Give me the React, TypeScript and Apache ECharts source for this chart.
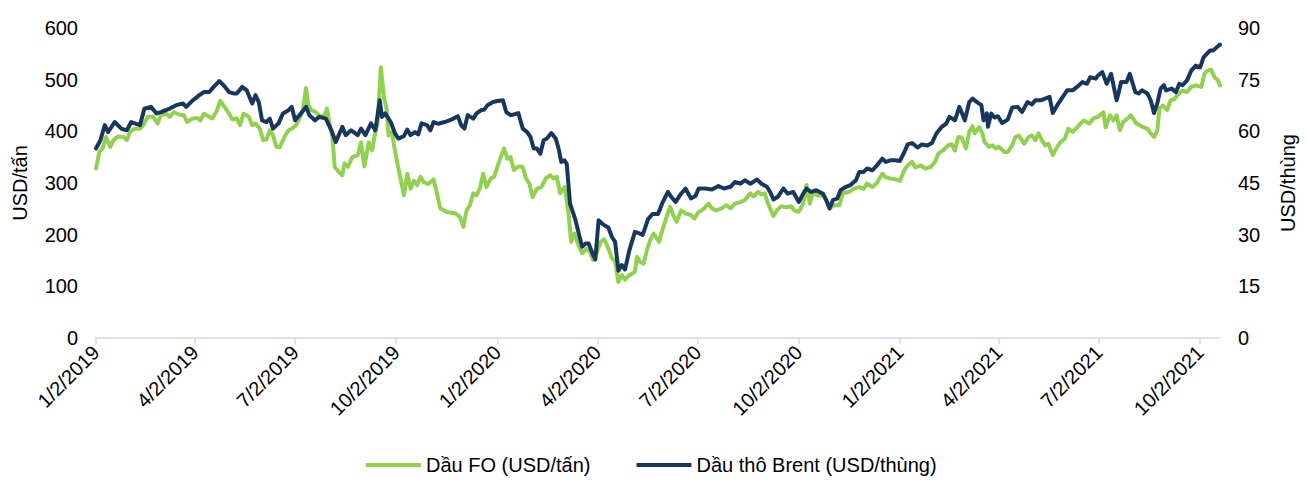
import React, { useEffect, useRef } from "react";
import * as echarts from "echarts";

// Axis domain (daily calendar) and tick labels
const START_DATE = "2019-01-02";
const END_DATE = "2021-10-20";
const TICK_MONTHS = ["01", "04", "07", "10"];
const TICK_DAY = "02";

const LEFT_TICKS = { min: 0, max: 600, interval: 100 };
const RIGHT_TICKS = { min: 0, max: 90, interval: 15 };

const FO_NAME = "Dầu FO (USD/tấn)";
const BRENT_NAME = "Dầu thô Brent (USD/thùng)";

const foDates: string[] = [
  "2019-01-02","2019-01-05","2019-01-08","2019-01-11","2019-01-15","2019-01-18","2019-01-22","2019-01-27","2019-01-30",
  "2019-02-02","2019-02-06","2019-02-11","2019-02-14","2019-02-18","2019-02-23","2019-02-27",
  "2019-03-02","2019-03-07","2019-03-10","2019-03-14","2019-03-19","2019-03-23","2019-03-26","2019-03-31",
  "2019-04-04","2019-04-07","2019-04-10","2019-04-15","2019-04-18","2019-04-22","2019-04-25","2019-04-28",
  "2019-05-03","2019-05-06","2019-05-10","2019-05-13","2019-05-16","2019-05-21","2019-05-24","2019-05-27","2019-05-31",
  "2019-06-03","2019-06-06","2019-06-09","2019-06-12","2019-06-15","2019-06-18","2019-06-23","2019-06-26","2019-06-29",
  "2019-07-03","2019-07-06","2019-07-09","2019-07-12","2019-07-14","2019-07-17","2019-07-21","2019-07-25","2019-07-29","2019-07-31",
  "2019-08-03","2019-08-05","2019-08-07","2019-08-11","2019-08-14","2019-08-16","2019-08-19","2019-08-23","2019-08-28","2019-08-31",
  "2019-09-03","2019-09-07","2019-09-10","2019-09-13","2019-09-15","2019-09-18","2019-09-21","2019-09-23","2019-09-25","2019-09-28",
  "2019-10-01","2019-10-05","2019-10-09","2019-10-12","2019-10-15","2019-10-18","2019-10-21","2019-10-24","2019-10-27","2019-10-31",
  "2019-11-05","2019-11-08","2019-11-11","2019-11-17","2019-11-25","2019-11-29",
  "2019-12-02","2019-12-05","2019-12-08","2019-12-11","2019-12-14","2019-12-17","2019-12-20","2019-12-23","2019-12-27","2019-12-30",
  "2020-01-03","2020-01-08","2020-01-11","2020-01-14","2020-01-17","2020-01-21","2020-01-25","2020-01-28","2020-01-31",
  "2020-02-03","2020-02-07","2020-02-11","2020-02-15","2020-02-19","2020-02-22","2020-02-25","2020-02-28",
  "2020-03-03","2020-03-05","2020-03-07","2020-03-09","2020-03-12","2020-03-15","2020-03-19","2020-03-23","2020-03-26","2020-03-29",
  "2020-04-01","2020-04-05","2020-04-08","2020-04-10","2020-04-12","2020-04-15","2020-04-18","2020-04-21","2020-04-24","2020-04-27","2020-04-30",
  "2020-05-03","2020-05-06","2020-05-08","2020-05-11","2020-05-14","2020-05-17","2020-05-20","2020-05-23","2020-05-26","2020-05-28","2020-05-30",
  "2020-06-02","2020-06-07","2020-06-10","2020-06-13","2020-06-17","2020-06-21","2020-06-26","2020-06-29",
  "2020-07-03","2020-07-07","2020-07-12","2020-07-15","2020-07-19","2020-07-24","2020-07-28",
  "2020-08-01","2020-08-05","2020-08-10","2020-08-14","2020-08-19","2020-08-22","2020-08-26","2020-08-29",
  "2020-09-01","2020-09-04","2020-09-09","2020-09-12","2020-09-16","2020-09-21","2020-09-25","2020-09-28",
  "2020-10-02","2020-10-06","2020-10-09","2020-10-12","2020-10-15","2020-10-19","2020-10-24","2020-10-27","2020-10-30",
  "2020-11-03","2020-11-08","2020-11-11","2020-11-17","2020-11-21","2020-11-26","2020-11-30",
  "2020-12-03","2020-12-08","2020-12-12","2020-12-17","2020-12-20","2020-12-24","2020-12-29",
  "2021-01-02","2021-01-06","2021-01-09","2021-01-13","2021-01-16","2021-01-21","2021-01-25","2021-01-30",
  "2021-02-03","2021-02-06","2021-02-10","2021-02-15","2021-02-18","2021-02-21","2021-02-24","2021-02-27",
  "2021-03-03","2021-03-06","2021-03-09","2021-03-11","2021-03-15","2021-03-18","2021-03-20","2021-03-24","2021-03-27","2021-03-30",
  "2021-04-02","2021-04-07","2021-04-10","2021-04-14","2021-04-17","2021-04-20","2021-04-25","2021-04-29",
  "2021-05-02","2021-05-05","2021-05-08","2021-05-11","2021-05-14","2021-05-17","2021-05-21","2021-05-25","2021-05-28",
  "2021-06-01","2021-06-04","2021-06-08","2021-06-11","2021-06-15","2021-06-18","2021-06-23","2021-06-27",
  "2021-07-01","2021-07-06","2021-07-08","2021-07-12","2021-07-15","2021-07-18","2021-07-21","2021-07-24","2021-07-28","2021-07-31",
  "2021-08-05","2021-08-08","2021-08-11","2021-08-15","2021-08-18","2021-08-21","2021-08-24","2021-08-26","2021-08-29",
  "2021-09-02","2021-09-05","2021-09-09","2021-09-11","2021-09-16","2021-09-20","2021-09-24","2021-09-28",
  "2021-10-03","2021-10-06","2021-10-09","2021-10-12","2021-10-15","2021-10-18","2021-10-20",
];

const foValues: number[] = [
  328,360,367,389,370,383,390,389,383,
  399,405,405,412,428,428,415,
  431,434,428,437,432,431,418,425,
  426,421,434,428,425,441,459,450,
  434,423,425,412,434,428,412,415,405,
  383,384,402,392,370,369,392,402,405,
  412,425,441,484,450,441,437,428,431,444,
  408,389,331,321,315,338,331,350,354,379,
  332,379,363,399,415,524,463,447,392,399,
  360,318,276,318,289,304,296,312,302,298,
  307,280,251,244,241,234,
  215,247,257,280,276,289,318,292,309,312,
  338,367,347,350,325,332,331,309,299,
  273,289,292,309,315,309,312,280,
  292,267,234,186,202,183,164,173,167,151,
  164,186,191,183,172,155,148,108,122,113,120,
  124,128,157,147,144,171,190,202,193,186,202,
  223,254,238,225,247,241,238,231,
  244,249,260,251,247,251,257,
  251,260,263,267,280,274,283,278,
  280,260,236,247,255,253,255,247,
  244,260,296,260,283,276,276,267,251,
  257,257,280,283,289,292,289,
  299,292,300,318,311,309,307,
  304,325,334,341,330,334,328,331,
  341,357,363,373,375,363,389,388,
  367,399,410,396,408,396,379,370,373,367,
  370,360,360,373,389,392,376,389,
  392,383,396,383,373,376,354,370,379,
  386,405,399,405,415,421,415,425,
  428,437,408,431,421,431,402,418,425,431,
  415,412,408,405,396,389,402,444,450,
  441,460,463,470,479,476,486,489,
  486,512,518,519,505,499,489,
];

const brentDates: string[] = [
  "2019-01-02","2019-01-06","2019-01-10","2019-01-13","2019-01-19","2019-01-25","2019-01-30",
  "2019-02-03","2019-02-11","2019-02-15","2019-02-21","2019-02-26",
  "2019-03-02","2019-03-10","2019-03-16","2019-03-22","2019-03-25","2019-03-31",
  "2019-04-06","2019-04-10","2019-04-15","2019-04-19","2019-04-24","2019-04-28",
  "2019-05-03","2019-05-07","2019-05-10","2019-05-15","2019-05-19","2019-05-24","2019-05-27","2019-05-30",
  "2019-06-02","2019-06-06","2019-06-09","2019-06-12","2019-06-17","2019-06-21","2019-06-26","2019-06-29",
  "2019-07-02","2019-07-06","2019-07-12","2019-07-15","2019-07-20","2019-07-24","2019-07-30",
  "2019-08-04","2019-08-08","2019-08-14","2019-08-17","2019-08-22","2019-08-28","2019-08-31",
  "2019-09-04","2019-09-09","2019-09-13","2019-09-17","2019-09-19","2019-09-22","2019-09-27",
  "2019-10-01","2019-10-04","2019-10-09","2019-10-12","2019-10-15","2019-10-19","2019-10-22","2019-10-25","2019-10-30",
  "2019-11-02","2019-11-05","2019-11-09","2019-11-15","2019-11-21","2019-11-27","2019-11-30",
  "2019-12-03","2019-12-06","2019-12-11","2019-12-14","2019-12-18","2019-12-21","2019-12-24","2019-12-29",
  "2020-01-02","2020-01-07","2020-01-10","2020-01-14","2020-01-17","2020-01-21","2020-01-25","2020-01-29",
  "2020-02-01","2020-02-04","2020-02-07","2020-02-10","2020-02-13","2020-02-16","2020-02-20","2020-02-24","2020-02-27","2020-02-29",
  "2020-03-03","2020-03-05","2020-03-08","2020-03-11","2020-03-13","2020-03-16","2020-03-19","2020-03-22","2020-03-25","2020-03-29","2020-03-31",
  "2020-04-03","2020-04-07","2020-04-12","2020-04-15","2020-04-18","2020-04-21","2020-04-24","2020-04-27",
  "2020-05-01","2020-05-06","2020-05-10","2020-05-13","2020-05-18","2020-05-22","2020-05-27","2020-05-31",
  "2020-06-05","2020-06-08","2020-06-12","2020-06-17","2020-06-21","2020-06-26","2020-06-30",
  "2020-07-03","2020-07-09","2020-07-15","2020-07-21","2020-07-26",
  "2020-08-01","2020-08-05","2020-08-10","2020-08-14","2020-08-19","2020-08-25","2020-08-29",
  "2020-09-03","2020-09-06","2020-09-09","2020-09-13","2020-09-18","2020-09-22","2020-09-27",
  "2020-10-02","2020-10-06","2020-10-09","2020-10-13","2020-10-18","2020-10-24","2020-10-27","2020-10-30",
  "2020-11-02","2020-11-06","2020-11-09","2020-11-14","2020-11-18","2020-11-23","2020-11-26","2020-11-30",
  "2020-12-03","2020-12-08","2020-12-12","2020-12-17","2020-12-20","2020-12-24","2020-12-29",
  "2021-01-02","2021-01-06","2021-01-09","2021-01-13","2021-01-18","2021-01-22","2021-01-27","2021-01-31",
  "2021-02-04","2021-02-09","2021-02-13","2021-02-16","2021-02-21","2021-02-25",
  "2021-03-02","2021-03-06","2021-03-09","2021-03-13","2021-03-17","2021-03-19","2021-03-22","2021-03-23","2021-03-26","2021-03-29",
  "2021-04-01","2021-04-05","2021-04-10","2021-04-14","2021-04-19","2021-04-23","2021-04-28",
  "2021-05-02","2021-05-05","2021-05-10","2021-05-14","2021-05-18","2021-05-21","2021-05-25","2021-05-29",
  "2021-06-03","2021-06-08","2021-06-12","2021-06-17","2021-06-21","2021-06-24","2021-06-29",
  "2021-07-01","2021-07-05","2021-07-09","2021-07-13","2021-07-18","2021-07-20","2021-07-22","2021-07-27","2021-07-30",
  "2021-08-04","2021-08-07","2021-08-10","2021-08-15","2021-08-18","2021-08-21","2021-08-24","2021-08-27","2021-08-30",
  "2021-09-01","2021-09-06","2021-09-10","2021-09-13","2021-09-16","2021-09-20","2021-09-24","2021-09-28",
  "2021-10-02","2021-10-05","2021-10-08","2021-10-11","2021-10-14","2021-10-17","2021-10-20",
];

const brentValues: number[] = [
  55.0,57.4,61.8,59.8,62.7,60.8,60.3,
  62.7,61.8,66.6,67.1,65.2,
  65.6,66.6,67.6,68.1,67.1,69.0,
  70.5,71.4,71.4,72.9,74.6,73.4,
  71.4,71.0,71.0,72.9,71.9,68.1,70.5,68.5,
  63.2,62.7,63.7,60.8,62.3,65.2,66.1,67.1,
  63.2,64.7,67.1,64.7,63.2,64.2,63.7,
  60.3,56.9,61.3,58.9,60.3,58.9,60.8,
  58.9,62.3,60.3,69.0,64.2,65.2,62.7,
  59.3,57.9,58.6,60.5,58.9,59.8,59.1,62.3,61.8,
  60.3,62.7,62.2,62.7,63.4,64.4,61.8,
  60.8,64.7,63.7,65.2,66.1,66.3,67.6,68.5,
  68.8,69.0,65.6,64.7,64.9,65.3,60.8,59.8,
  58.4,55.0,55.0,53.5,57.4,57.9,59.5,57.9,54.5,51.1,
  51.6,50.6,39.0,36.2,34.2,30.3,26.5,27.4,27.4,24.1,22.8,
  34.2,33.0,32.0,29.4,27.9,19.5,21.2,19.9,
  25.5,30.8,30.4,29.9,34.5,36.0,36.0,39.2,
  42.4,41.0,39.5,41.9,43.4,40.5,41.2,
  43.4,43.4,43.1,44.1,43.4,
  43.9,45.3,44.8,45.8,44.8,46.0,44.8,
  43.9,42.4,40.2,41.0,43.4,41.9,42.4,
  39.5,41.9,43.4,42.4,42.9,41.9,40.0,37.6,
  40.0,40.5,42.9,43.9,44.4,45.8,48.2,48.2,
  49.2,48.7,50.1,52.1,51.1,51.6,51.6,
  51.4,54.0,56.2,56.6,55.3,56.2,55.9,56.6,
  59.3,61.3,62.2,64.2,63.2,67.1,
  63.2,68.5,69.5,68.5,67.6,63.2,65.2,61.3,65.2,64.0,
  64.4,62.4,63.4,66.9,67.1,65.6,68.5,
  67.8,69.0,69.0,69.5,70.0,65.3,67.6,69.5,
  71.9,71.9,72.9,74.3,73.8,75.7,75.3,
  76.2,77.2,73.8,76.7,69.0,71.4,74.3,74.3,76.7,
  71.4,71.0,71.9,71.0,69.0,65.3,68.1,72.4,73.4,
  71.9,72.4,71.4,73.8,73.4,74.8,77.7,79.1,
  78.6,81.5,82.5,83.5,83.5,84.4,85.2,
];

function buildDays(start: string, end: string): string[] {
  const out: string[] = [];
  const s = Date.parse(start + "T00:00:00Z");
  const e = Date.parse(end + "T00:00:00Z");
  for (let t = s; t <= e; t += 86400000) {
    out.push(new Date(t).toISOString().slice(0, 10));
  }
  return out;
}

const isQuarterTick = (value: string) =>
  value.slice(8, 10) === TICK_DAY && TICK_MONTHS.includes(value.slice(5, 7));

const fmtDate = (value: string) => {
  const [y, m, d] = value.split("-");
  return `${+m}/${+d}/${y}`;
};

const FONT = "'Liberation Sans', Arial, Helvetica, sans-serif";

export default function App() {
  const ref = useRef<HTMLDivElement>(null);

  useEffect(() => {
    if (!ref.current) return;
    const chart = echarts.init(ref.current, null, { renderer: "svg" });
    const days = buildDays(START_DATE, END_DATE);
    const tickFn = (_i: number, v: string) => isQuarterTick(v);

    chart.setOption({
      animation: false,
      textStyle: { fontFamily: FONT },
      grid: { left: 96, right: 75, top: 28, bottom: 144, containLabel: false },
      legend: {
        left: 366,
        top: 454,
        padding: 0,
        itemWidth: 55,
        itemHeight: 4,
        itemGap: 46,
        icon: "rect",
        textStyle: { fontSize: 20, lineHeight: 22, color: "#000", fontFamily: FONT, padding: [0, 0, 0, 0] },
        data: [FO_NAME, BRENT_NAME],
      },
      xAxis: {
        type: "category",
        data: days,
        boundaryGap: false,
        axisLine: { show: true, lineStyle: { color: "#D9D9D9", width: 1.5 } },
        axisTick: { show: true, interval: tickFn, length: 6, lineStyle: { color: "#D9D9D9", width: 1.5 } },
        axisLabel: {
          interval: tickFn,
          rotate: 45,
          margin: 11,
          fontSize: 20,
          color: "#000",
          fontFamily: FONT,
          formatter: (v: string) => fmtDate(v),
        },
        splitLine: { show: false },
      },
      yAxis: [
        {
          type: "value",
          min: LEFT_TICKS.min,
          max: LEFT_TICKS.max,
          interval: LEFT_TICKS.interval,
          position: "left",
          name: "USD/tấn",
          nameLocation: "middle",
          nameRotate: 90,
          nameGap: 66,
          nameTextStyle: { fontSize: 20, color: "#000", fontFamily: FONT },
          axisLine: { show: false },
          axisTick: { show: false },
          splitLine: { show: false },
          axisLabel: { margin: 18, fontSize: 20, color: "#000", fontFamily: FONT },
        },
        {
          type: "value",
          min: RIGHT_TICKS.min,
          max: RIGHT_TICKS.max,
          interval: RIGHT_TICKS.interval,
          position: "right",
          name: "USD/thùng",
          nameLocation: "middle",
          nameRotate: 90,
          nameGap: 58,
          nameTextStyle: { fontSize: 20, color: "#000", fontFamily: FONT },
          axisLine: { show: false },
          axisTick: { show: false },
          splitLine: { show: false },
          axisLabel: { margin: 18, fontSize: 20, color: "#000", fontFamily: FONT },
        },
      ],
      series: [
        {
          name: FO_NAME,
          type: "line",
          yAxisIndex: 0,
          showSymbol: false,
          symbol: "none",
          color: "#92D050",
          lineStyle: { color: "#92D050", width: 4, cap: "round", join: "round" },
          data: foDates.map((d, i) => [d, foValues[i]]),
        },
        {
          name: BRENT_NAME,
          type: "line",
          yAxisIndex: 1,
          showSymbol: false,
          symbol: "none",
          color: "#17375E",
          lineStyle: { color: "#17375E", width: 4, cap: "round", join: "round" },
          data: brentDates.map((d, i) => [d, brentValues[i]]),
        },
      ],
    });

    return () => chart.dispose();
  }, []);

  return (
    <div
      ref={ref}
      style={{ position: "absolute", left: 0, top: 0, width: 1306, height: 482, background: "#fff" }}
    />
  );
}
